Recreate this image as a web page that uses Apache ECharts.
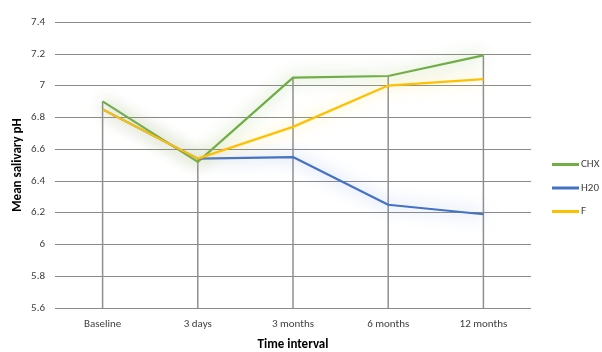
<!DOCTYPE html>
<html><head><meta charset="utf-8">
<script src="https://cdn.jsdelivr.net/npm/echarts@6/dist/echarts.min.js"></script>
<style>html,body{margin:0;padding:0;background:#fff}#c{width:602px;height:352px}</style>
</head><body><div id="c"></div>
<script>
const categories = ['Baseline', '3 days', '3 months', '6 months', '12 months'];
const chx = [6.90, 6.52, 7.05, 7.06, 7.19];
const h20 = [6.85, 6.54, 6.55, 6.25, 6.19];
const f = [6.85, 6.54, 6.74, 7.00, 7.04];
const yMin = 5.6, yMax = 7.4, yStep = 0.2;

const dropTop = categories.map((_, i) => Math.max(chx[i], h20[i], f[i]));

const chart = echarts.init(document.getElementById('c'));
const font = 'Calibri, Carlito, "Open Sans", "Noto Sans", sans-serif';
function lineSeries(name, data, color, glow) {
  return {
    name, type: 'line', data, symbol: 'none', z: 3,
    lineStyle: { color, width: 2.2, shadowBlur: 16, shadowColor: glow },
    itemStyle: { color }
  };
}
chart.setOption({
  animation: false,
  textStyle: { fontFamily: font },
  grid: { left: 55, right: 71, top: 22, bottom: 44, outerBoundsMode: 'none', containLabel: false },
  legend: {
    orient: 'vertical', left: 552, top: 159, itemWidth: 27, itemHeight: 3, itemGap: 12.5, icon: 'rect',
    padding: 0,
    textStyle: { fontSize: 11, color: '#404040', fontFamily: font, padding: [0, 0, 0, -3] },
    data: ['CHX', 'H20', 'F']
  },
  xAxis: {
    type: 'category', data: categories, boundaryGap: true,
    name: 'Time interval', nameLocation: 'middle', nameGap: 30,
    nameTextStyle: { fontSize: 13, fontWeight: 'bold', color: '#000', fontFamily: font },
    axisLine: { show: false }, axisTick: { show: false },
    axisLabel: { fontSize: 11, color: '#404040', margin: 11 },
    splitLine: { show: false }
  },
  yAxis: {
    type: 'value', min: yMin, max: yMax, interval: yStep,
    name: 'Mean salivary pH', nameLocation: 'middle', nameGap: 31, nameRotate: 90,
    nameMoveOverlap: false,
    nameTextStyle: { fontSize: 13, fontWeight: 'bold', color: '#000', fontFamily: font },
    axisLine: { show: false }, axisTick: { show: false },
    axisLabel: { fontSize: 11, color: '#404040', margin: 10, formatter: v => String(parseFloat(v.toFixed(1))) },
    splitLine: { lineStyle: { color: '#8a8a8a', width: 1.2 } }
  },
  series: [
    {
      name: 'drop', type: 'bar', data: dropTop, barWidth: 1.5, silent: true, z: 1,
      itemStyle: { color: '#8f8f8f' }, legendHoverLink: false
    },
    lineSeries('CHX', chx, '#70AD47', 'rgba(112,173,71,0.8)'),
    lineSeries('H20', h20, '#4472C4', 'rgba(68,114,196,0.65)'),
    lineSeries('F', f, '#FFC000', 'rgba(255,220,80,0.75)')
  ]
});
</script></body></html>
